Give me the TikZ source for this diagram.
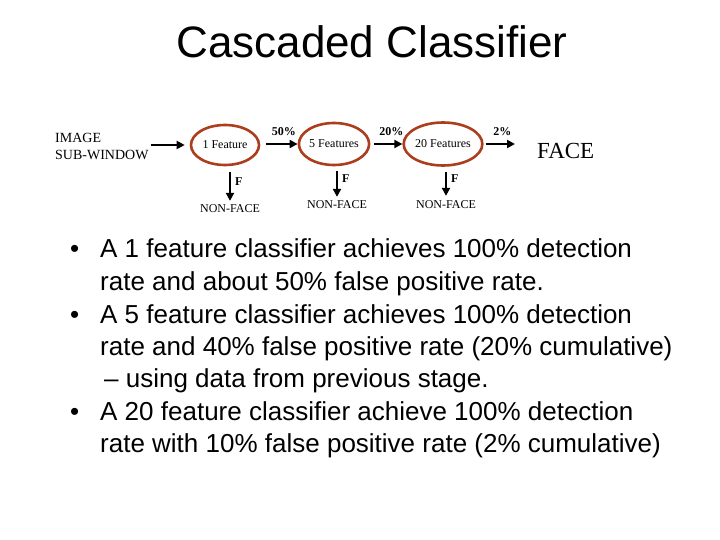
\documentclass[tikz,border=0pt]{standalone}
\usepackage{fontspec}
\setmainfont{Liberation Serif}
\newfontfamily\arial{Liberation Sans}
\usetikzlibrary{shapes.geometric,arrows.meta}
\definecolor{ellcol}{RGB}{172,62,30}
\tikzset{
  stage/.style={ellipse, draw=ellcol, line width=2.6pt, inner sep=0pt, font=\fontsize{12}{14}\selectfont},
  arr/.style={line width=2pt, -{Triangle[length=8pt,width=8pt]}},
  lab/.style={inner sep=0pt, font=\fontsize{12}{14}\selectfont},
  blab/.style={inner sep=1pt, font=\fontsize{12}{14}\selectfont\bfseries},
  btxt/.style={inner sep=0pt, anchor=base west, font=\arial\fontsize{26}{32}\selectfont}
}
\begin{document}
\begin{tikzpicture}[x=1pt,y=-1pt]
\useasboundingbox (0,0) rectangle (720,540);
\fill[white] (0,0) rectangle (720,540);
% title
\node[inner sep=0pt, anchor=base, font=\arial\fontsize{44}{50}\selectfont] (title) at (372,58) {Cascaded Classifier};
% diagram
\node[lab, anchor=west, align=left, font=\fontsize{14}{17}\selectfont] (img) at (55,146) {IMAGE\\SUB-WINDOW};
\node[stage, minimum width=68pt, minimum height=40pt] (e1) at (225,145) {1 Feature};
\node[stage, minimum width=68pt, minimum height=42pt] (e2) at (334,144) {5 Features};
\node[stage, minimum width=70pt, minimum height=43pt] (e3) at (443,144) {20 Features};
\node[inner sep=0pt, anchor=west, font=\fontsize{23}{26}\selectfont] (face) at (537,151) {FACE};
\node[lab, anchor=base] (nf1) at (230,212) {NON-FACE};
\node[lab, anchor=base] (nf2) at (337,209) {NON-FACE};
\node[lab, anchor=base] (nf3) at (446,208) {NON-FACE};
% horizontal arrows
\draw[arr, shorten <=2pt, shorten >=5pt] (img.east |- e1.west) -- (e1.west);
\draw[arr, shorten <=6pt] (e1.east |- e2.west) -- (e2.west) node[blab, midway, above=6pt, xshift=5pt] {50\%};
\draw[arr, shorten <=4pt] (e2.east) -- (e3.west) node[blab, midway, above=6pt, xshift=5pt] {20\%};
\draw[arr, shorten <=2pt, shorten >=22pt] (e3.east) -- (e3.east -| face.west) node[blab, midway, above=6pt, xshift=-8pt] {2\%};
% down arrows
\draw[arr, shorten <=6pt, shorten >=3pt] (e1.south -| nf1.north) -- (nf1.north) node[blab, pos=0.4, right=3pt] {F};
\draw[arr, shorten <=5pt, shorten >=4pt] (e2.south -| nf2.north) -- (nf2.north) node[blab, pos=0.35, right=3pt] {F};
\draw[arr, shorten <=5pt, shorten >=4pt] (e3.south -| nf3.north) -- (nf3.north) node[blab, pos=0.35, right=3pt] {F};
% bullets
\node[btxt] (b1) at (70,258) {\textbullet};
\node[btxt] (l1) at (100,258) {A 1 feature classifier achieves 100\% detection};
\node[btxt] (l2) at (100,290.5) {rate and about 50\% false positive rate.};
\node[btxt] (b2) at (70,323) {\textbullet};
\node[btxt] (l3) at (100,323) {A 5 feature classifier achieves 100\% detection};
\node[btxt] (l4) at (100,355) {rate and 40\% false positive rate (20\% cumulative)};
\node[btxt] (l5) at (104,387.5) {– using data from previous stage.};
\node[btxt] (b3) at (70,420) {\textbullet};
\node[btxt] (l6) at (100,420) {A 20 feature classifier achieve 100\% detection};
\node[btxt] (l7) at (100,452) {rate with 10\% false positive rate (2\% cumulative)};
\end{tikzpicture}
\end{document}
